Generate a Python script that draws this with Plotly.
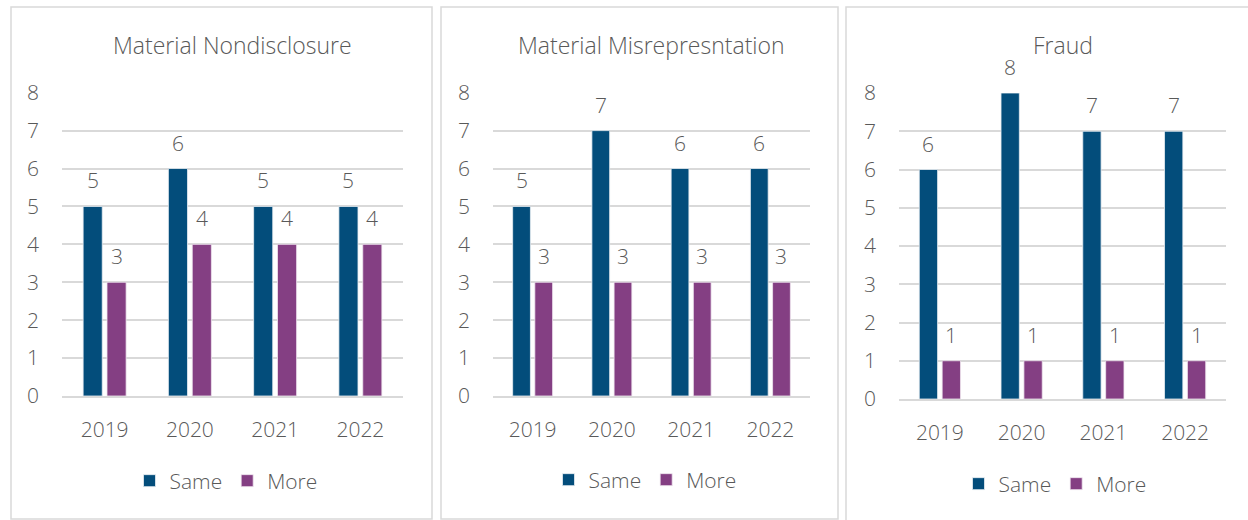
import plotly.graph_objects as go

# Survey counts per allegation type, by year
years = ["2019", "2020", "2021", "2022"]
panel_titles = ["Material Nondisclosure", "Material Misrepresntation", "Fraud"]
same_nondisclosure = [5, 6, 5, 5]
more_nondisclosure = [3, 4, 4, 4]
same_misrep = [5, 7, 6, 6]
more_misrep = [3, 3, 3, 3]
same_fraud = [6, 8, 7, 7]
more_fraud = [1, 1, 1, 1]
y_ticks = [0, 1, 2, 3, 4, 5, 6, 7, 8]

W, H = 1248, 520
SAME_COLOR = "#034D7B"
MORE_COLOR = "#843F83"
TEXT_COLOR = "#595959"
GRID_COLOR = "#D9D9D9"
FONT = "Open Sans"
WEIGHT = 300
BARGAP = 0.44
GROUPGAP = 0.2


def font(size):
    return dict(size=size, color=TEXT_COLOR, family=FONT, weight=WEIGHT)


# pixel layout of each panel: border box, plot area, title/legend rows
panels = [
    dict(box=(11, 7, 432, 519), x=(62, 403), y=(396, 92.7), title_y=45, legend=(226, 481)),
    dict(box=(441, 7, 838, 519), x=(493, 810), y=(396, 92.7), title_y=45, legend=(645, 480)),
    dict(box=(846, 7, 1262, 530), x=(899, 1226), y=(399, 93), title_y=45, legend=(1055, 484)),
]
series = [
    (same_nondisclosure, more_nondisclosure),
    (same_misrep, more_misrep),
    (same_fraud, more_fraud),
]

fig = go.Figure()
shapes, annotations = [], []


def px_x(v):
    return v / W


def px_y(v):
    return 1 - v / H


for i, (p, (same, more)) in enumerate(zip(panels, series)):
    n = "" if i == 0 else str(i + 1)
    xa, ya = "x" + n, "y" + n
    leg = "legend" + n
    fig.add_trace(go.Bar(x=years, y=same, name="Same", marker_color=SAME_COLOR,
                         marker_line=dict(width=0.8, color="#E8EEF3"),
                         xaxis=xa, yaxis=ya, legend=leg))
    fig.add_trace(go.Bar(x=years, y=more, name="More", marker_color=MORE_COLOR,
                         marker_line=dict(width=0.8, color="#EFE6EF"),
                         xaxis=xa, yaxis=ya, legend=leg))

    x0, x1 = p["x"]
    y0, y1 = p["y"]
    fig.update_layout(**{
        "xaxis" + n: dict(domain=[px_x(x0), px_x(x1)], anchor=ya, type="category",
                          showgrid=False, showline=True, linecolor=GRID_COLOR, linewidth=1.5,
                          ticks="", ticklabelstandoff=14, tickfont=font(21),
                          automargin=False, fixedrange=True),
        "yaxis" + n: dict(domain=[px_y(y0), px_y(y1)], anchor=xa, range=[0, 8],
                          tickvals=y_ticks, showgrid=True, gridcolor=GRID_COLOR, gridwidth=1.5,
                          zeroline=False, showline=False, ticks="", ticklabelstandoff=22,
                          tickfont=font(21), automargin=False, fixedrange=True),
        leg: dict(orientation="h", x=px_x(p["legend"][0]), y=px_y(p["legend"][1]),
                  xanchor="center", yanchor="middle", font=font(21),
                  bgcolor="rgba(0,0,0,0)", itemclick=False, itemdoubleclick=False,
                  tracegroupgap=0, itemwidth=30),
    })

    # panel border
    bx0, by0, bx1, by1 = p["box"]
    shapes.append(dict(type="rect", xref="paper", yref="paper",
                       x0=px_x(bx0), x1=px_x(bx1), y0=px_y(by1), y1=px_y(by0),
                       line=dict(color=GRID_COLOR, width=1.5), layer="below"))

    # panel title
    annotations.append(dict(text=panel_titles[i], xref="paper", yref="paper",
                            x=px_x((x0 + x1) / 2), y=px_y(p["title_y"]),
                            xanchor="center", yanchor="middle", showarrow=False,
                            font=font(23)))

    # value labels above each bar, offset to the bar's slot within its group
    slot = (1 - BARGAP) / 2
    for k, (s, m) in enumerate(zip(same, more)):
        for val, off in ((s, -slot / 2), (m, slot / 2)):
            annotations.append(dict(text=str(val), xref=xa, yref=ya, x=k + off, y=val,
                                    xanchor="center", yanchor="bottom", yshift=10,
                                    showarrow=False, font=font(21)))

fig.update_layout(
    width=W, height=H, margin=dict(l=0, r=0, t=0, b=0, pad=0, autoexpand=False),
    paper_bgcolor="white", plot_bgcolor="white",
    barmode="group", bargap=BARGAP, bargroupgap=GROUPGAP,
    shapes=shapes, annotations=annotations, showlegend=True,
)

fig.write_html("out.html", config={"displayModeBar": False})
